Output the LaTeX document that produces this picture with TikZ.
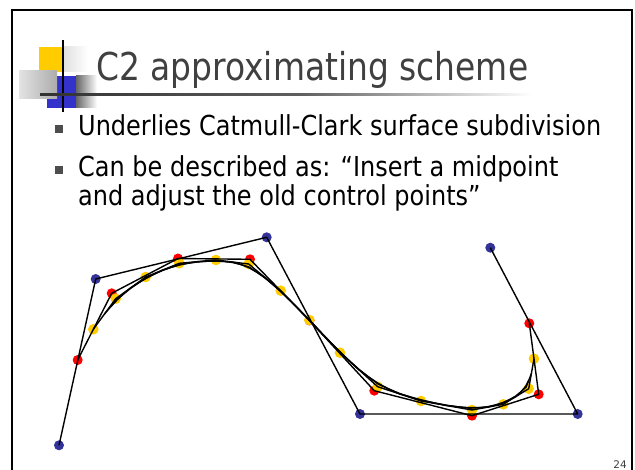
\documentclass[tikz,border=0pt]{standalone}
\usepackage{fontspec}
\setmainfont{DejaVu Sans}
\usetikzlibrary{calc}
\definecolor{dotblue}{RGB}{51,51,153}
\definecolor{dotred}{RGB}{255,0,0}
\definecolor{dotyellow}{RGB}{255,204,0}
\definecolor{titlegray}{RGB}{64,64,64}
\definecolor{logoblue}{RGB}{51,51,204}
\definecolor{logoyellow}{RGB}{255,204,0}
\definecolor{bulletgray}{RGB}{77,77,77}
\definecolor{linedark}{RGB}{50,50,50}
\definecolor{linemid}{RGB}{95,95,95}
\newlength\bodylinew
\newcommand\bodyfnt{\fontsize{27.5}{33}\selectfont}
\tikzset{
  curveline/.style={line width=1.4pt, black, line join=round},
  bluedot/.style={fill=dotblue},
  reddot/.style={fill=dotred},
  yellowdot/.style={fill=dotyellow},
  bodytext/.style={anchor=base west, inner sep=0pt, text=black},
  bulletbox/.style={fill=bulletgray},
}
\begin{document}
\settowidth\bodylinew{\bodyfnt Underlies Catmull-Clark surface subdivision}%
\pgfmathsetmacro\bsx{523/\bodylinew}%
\begin{tikzpicture}[x=1pt,y=-1pt]
\useasboundingbox (0,0) rectangle (635,470);
\clip (0,0) rectangle (635,470);
\fill[white] (0,0) rectangle (635,470);
% slide frame
\draw[line width=2pt, black] (11.7,480) -- (11.7,10) -- (631.5,10) -- (631.5,480);
% logo
\fill[logoyellow] (39,47) rectangle (63,72);
\shade[left color=gray!25, right color=white] (63,47) rectangle (88,72);
\fill[logoblue] (47,76) rectangle (76,108);
\shade[left color=gray!80!black, right color=white] (76,76) rectangle (97,108);
\shade[left color=gray!22, right color=gray!65] (19,71) rectangle (57,99);
\draw[line width=2.2pt, black] (63.3,40) -- (63.3,112);
% title underline
\shade[left color=linedark, right color=linemid] (40,93.3) rectangle (300,95.3);
\shade[left color=linemid, right color=white] (300,93.3) rectangle (532,95.3);
% title
\node[anchor=base west, inner sep=0pt, text=titlegray] (title) at (96,81)
  {\resizebox{432pt}{\height}{\fontsize{38.4}{46}\selectfont C2 approximating scheme}};
% bullets
\node[bodytext] (b1) at (78,136) {\scalebox{\bsx}[1]{\bodyfnt Underlies Catmull-Clark surface subdivision}};
\node[bodytext] (b2) at (78,177) {\scalebox{\bsx}[1]{\bodyfnt Can be described as: “Insert a midpoint}};
\node[bodytext] (b3) at (78,206) {\scalebox{\bsx}[1]{\bodyfnt and adjust the old control points”}};
\fill[bulletbox] (55,125.5) rectangle (63,133.5);
\fill[bulletbox] (55,166.5) rectangle (63,174.5);
% page number
\node[anchor=base east, inner sep=0pt, text=titlegray, font=\fontsize{10.5}{12}\selectfont] (pgnum) at (627,468.5) {24};
% level 0 control points
\coordinate (L0-0) at (59,445.3);
\coordinate (L0-1) at (95.7,279);
\coordinate (L0-2) at (266.7,237.3);
\coordinate (L0-3) at (360,414);
\coordinate (L0-4) at (577.7,414);
\coordinate (L0-5) at (490.3,247.7);
% level 1
\coordinate (L1-0) at (77.7,360);
\coordinate (L1-1) at (111.7,293.3);
\coordinate (L1-2) at (178,258.5);
\coordinate (L1-3) at (250,259.3);
\coordinate (L1-4) at (309.5,320.5);
\coordinate (L1-5) at (374.3,390.7);
\coordinate (L1-6) at (472,415.7);
\coordinate (L1-7) at (538.7,394.3);
\coordinate (L1-8) at (529.3,323.3);
% level 2
\coordinate (L2-0) at (93.3,329.3);
\coordinate (L2-1) at (115.7,298.7);
\coordinate (L2-2) at (145.7,277);
\coordinate (L2-3) at (179.3,263.3);
\coordinate (L2-4) at (216,260);
\coordinate (L2-5) at (248.7,264);
\coordinate (L2-6) at (280.7,290.7);
\coordinate (L2-7) at (309.3,320);
\coordinate (L2-8) at (340,352.7);
\coordinate (L2-9) at (377.7,386.7);
\coordinate (L2-10) at (421,401);
\coordinate (L2-11) at (472,410);
\coordinate (L2-12) at (503.3,404.3);
\coordinate (L2-13) at (528.7,388.7);
\coordinate (L2-14) at (534,358.7);
% level 3 and 4 by subdivision
\foreach \j in {0,...,26} {
  \pgfmathtruncatemacro\ii{floor(\j/2)}
  \pgfmathtruncatemacro\ia{\ii+1}
  \pgfmathtruncatemacro\ib{\ii+2}
  \ifodd\j\relax
    \coordinate (L3-\j) at ($0.125*(L2-\ii)+0.75*(L2-\ia)+0.125*(L2-\ib)$);
  \else
    \coordinate (L3-\j) at ($(L2-\ii)!0.5!(L2-\ia)$);
  \fi
}
\foreach \j in {0,...,50} {
  \pgfmathtruncatemacro\ii{floor(\j/2)}
  \pgfmathtruncatemacro\ia{\ii+1}
  \pgfmathtruncatemacro\ib{\ii+2}
  \ifodd\j\relax
    \coordinate (L4-\j) at ($0.125*(L3-\ii)+0.75*(L3-\ia)+0.125*(L3-\ib)$);
  \else
    \coordinate (L4-\j) at ($(L3-\ii)!0.5!(L3-\ia)$);
  \fi
}
% dots
\foreach \k in {0,...,5} { \fill[bluedot] (L0-\k) circle[radius=5pt]; }
\foreach \k in {0,...,8} { \fill[reddot] (L1-\k) circle[radius=5pt]; }
\foreach \k in {0,...,14} { \fill[yellowdot] (L2-\k) circle[radius=5.3pt]; }
% polylines
\draw[curveline] (L0-0) \foreach \k in {1,...,5} { -- (L0-\k) };
\draw[curveline] (L1-0) \foreach \k in {1,...,8} { -- (L1-\k) };
\draw[curveline] (L2-0) \foreach \k in {1,...,14} { -- (L2-\k) };
\draw[curveline] (L3-0) \foreach \k in {1,...,26} { -- (L3-\k) };
\draw[curveline] (L4-0) \foreach \k in {1,...,50} { -- (L4-\k) };
\end{tikzpicture}
\end{document}
